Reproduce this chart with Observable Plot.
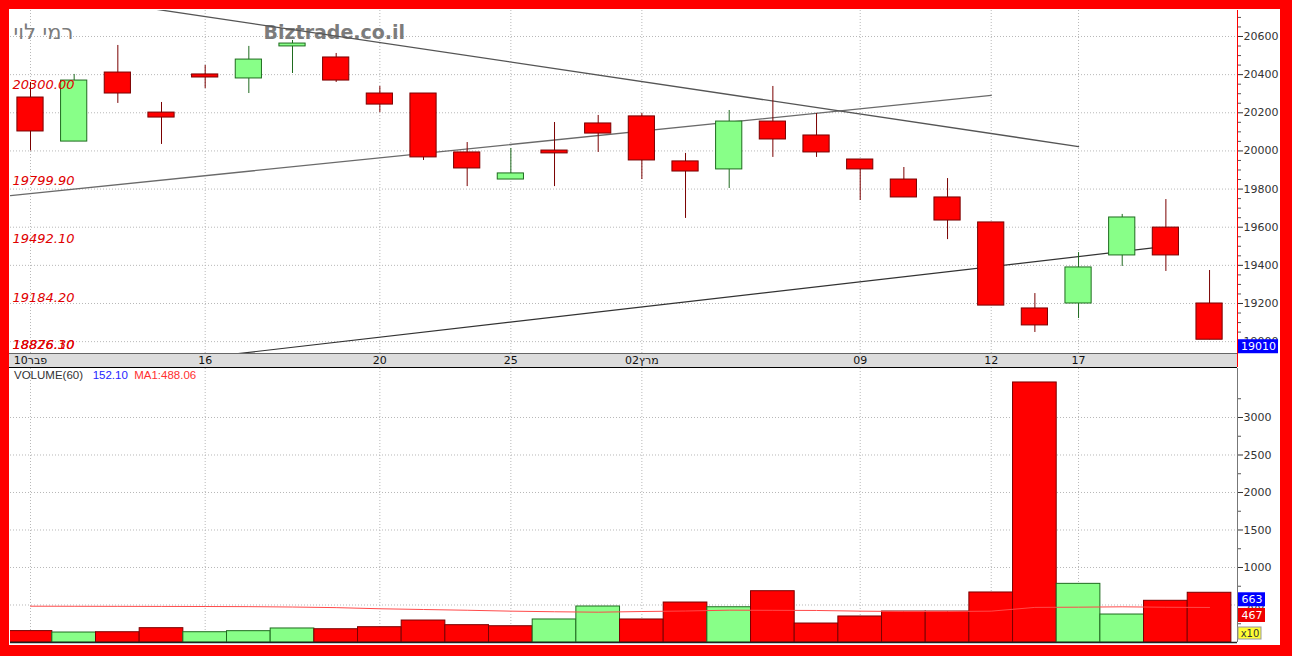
<!DOCTYPE html>
<html><head><meta charset="utf-8">
<script src="https://cdn.jsdelivr.net/npm/d3@7"></script>
<script src="https://cdn.jsdelivr.net/npm/@observablehq/plot@0.6"></script>
<style>
body{margin:0;background:#fff}
#frame{position:relative;width:1292px;height:656px;background:#ff0000;overflow:hidden}
.abs{position:absolute}
svg{position:absolute;left:0}
</style></head>
<body><div id="frame"></div>
<script>
// ---- data ----
const idx = d3.range(28);
const open  = [20280,20049,20411,20201,20401,20380,20548,20490,20301,20301,19992,19850,20002,20144,20181,19945,19903,20154,20081,19955,19850,19756,19625,19174,19200,19452,19598,19200];
const high  = [20359,20401,20553,20254,20448,20548,20579,20511,20338,20301,20044,20013,20149,20186,20196,19987,20212,20338,20196,19955,19913,19855,19625,19252,19467,19667,19745,19373];
const low   = [20000,20049,20249,20034,20327,20301,20406,20359,20201,19950,19813,19850,19813,19992,19850,19646,19803,19966,19966,19740,19756,19535,19189,19048,19121,19394,19368,19010];
const close = [20102,20369,20301,20175,20385,20479,20563,20369,20243,19966,19908,19882,19987,20091,19950,19892,20154,20060,19992,19903,19756,19635,19189,19085,19389,19651,19452,19010];
const volume = [152.1,133,137,191,137,151,187,177,204,293,231,217,307,480,307,533,470,684,253,347,413,413,667,3467,782,373,556,663];
const volMA  = [484,483,482,481,480,478,473,465,450,440,430,418,410,404,413,420,431,429,427,418,413,413,418,468,471,476,470,467];
const tickIdx = [0,4,8,11,14,19,22,24];
const tickLabels = ["10פבר","16","20","25","02מרץ","09","12","17"];
const priceTicks = [19000,19200,19400,19600,19800,20000,20200,20400,20600];
const volTicks = [500,1000,1500,2000,2500,3000];
const levels = [20300, 19799.9, 19492.1, 19184.2, 18876.3, 18826.1];
const levelLabels = ["20300.00","19799.90","19492.10","19184.20","18876.30","18826.10"];
const trendDown  = [{i:2.75, p:20747}, {i:24, p:20023}];
const trendUpHi  = [{i:-0.458, p:19766}, {i:22, p:20291}];
const trendUpLo  = [{i:4.1, p:18920}, {i:26, p:19499}];
const lastPrice = 19010;
const lastVol = 663, lastMA = 467;
const volLabel = ["VOLUME(60)", "152.10", "MA1:488.06"];
const ownerName = "רמי לוי";
const siteName = "Biztrade.co.il";

// ---- layout ----
const frame = document.getElementById("frame");
const xDomain = [-0.458, 27.64];
const pxPerIdx = 1227 / (xDomain[1] - xDomain[0]);
const pDomain = [18937.8, 20736.3];
const pxPerPrice = 343 / (pDomain[1] - pDomain[0]);
const vDomain = [0, 3653.3];
const pxPerVol = 274 / vDomain[1];
const font = "DejaVu Sans, Verdana, sans-serif";
const fmt = d3.format("d");

function div(css){const d=document.createElement("div");d.className="abs";Object.assign(d.style,css);frame.appendChild(d);return d;}
div({left:"9px",top:"9px",width:"1271px",height:"636px",background:"#fff"});
div({left:"9px",top:"353px",width:"1228px",height:"13px",background:"#dcdcdc",borderTop:"1px solid #666",borderBottom:"1px solid #000"});

const up = i => close[i] > open[i];
const volUp = i => i > 0 && close[i] > close[i-1];
const RED="#ff0000", RED_D="#7a0000", GRN="#88ff88", GRN_D="#1f6b1f";

const price = Plot.plot({
  width:1292, height:368,
  marginLeft:10, marginRight:55, marginTop:10, marginBottom:15,
  x:{domain:xDomain, axis:null, label:null},
  y:{domain:pDomain, axis:null, label:null},
  style:{background:"transparent", fontFamily:font, overflow:"visible"},
  marks:[
    Plot.gridY({ticks:priceTicks, stroke:"#b8b8b8", strokeOpacity:1, strokeDasharray:"1,2"}),
    Plot.gridX({ticks:tickIdx, stroke:"#b8b8b8", strokeOpacity:1, strokeDasharray:"1,2"}),
    Plot.text([ownerName], {ariaLabel:"owner", frameAnchor:"top-left", text:d=>d, dx:3, dy:22, lineAnchor:"middle", textAnchor:"start", fontSize:21, fill:"#7c7c7c"}),
    Plot.text([siteName], {frameAnchor:"top-left", text:d=>d, dx:253, dy:22, lineAnchor:"middle", textAnchor:"start", fontSize:19, fontWeight:"bold", fill:"#7c7c7c"}),
    Plot.line(trendUpHi, {x:"i", y:"p", stroke:"#6a6a6a", strokeWidth:1.3, clip:true}),
    Plot.line(trendDown, {x:"i", y:"p", stroke:"#555", strokeWidth:1.3, clip:true}),
    Plot.line(trendUpLo, {x:"i", y:"p", stroke:"#333", strokeWidth:1.2, clip:true}),
    Plot.ruleX(idx, {x:i=>i, y1:i=>low[i], y2:i=>high[i], stroke:i=>up(i)?GRN_D:RED_D, strokeWidth:1}),
    Plot.rect(idx, {x1:i=>i-0.3, x2:i=>i+0.3, y1:i=>open[i], y2:i=>Math.abs(open[i]-close[i])<12 ? open[i] + (up(i)?12:-12) : close[i], fill:i=>up(i)?GRN:RED, stroke:i=>up(i)?GRN_D:RED_D, strokeWidth:1}),
    Plot.text(d3.range(levels.length), {ariaLabel:"levels", x:xDomain[0], y:i=>Math.max(levels[i], pDomain[0]), text:i=>levelLabels[i], dx:2, dy:-8.5, lineAnchor:"middle", textAnchor:"start", fontSize:13, fontStyle:"italic", fill:"#e00000"}),
    Plot.axisY({anchor:"right", label:null, ticks:d3.range(18950,20750,50).filter(v=>v%200!==0), tickSize:3, tickFormat:()=>"", color:"#555"}),
    Plot.axisY({anchor:"right", label:null, ticks:priceTicks, tickSize:5, tickPadding:1, tickFormat:fmt, fontSize:11, color:"#333"}),
    Plot.axisX({anchor:"bottom", label:null, ticks:tickIdx, tickFormat:d=>tickLabels[tickIdx.indexOf(d)], tickSize:0, tickPadding:3, fontSize:11, color:"#111"}),
    Plot.rect([lastPrice], {x1:xDomain[1]+1/pxPerIdx, x2:xDomain[1]+41/pxPerIdx, y1:d=>d, y2:d=>d-14/pxPerPrice, fill:"#0000ff"}),
    Plot.text([lastPrice], {x:xDomain[1]+21/pxPerIdx, y:d=>d-7/pxPerPrice, text:d=>String(d), fill:"#fff", fontSize:11, lineAnchor:"middle"})
  ]
});
price.style.top = "0px";
d3.select(price).selectAll('g[aria-label="levels"] text').attr("letter-spacing","1px");
d3.select(price).selectAll('g[aria-label="owner"] text').attr("direction","ltr").attr("unicode-bidi","bidi-override").style("direction","ltr").style("unicode-bidi","bidi-override");
frame.appendChild(price);
div({left:"1237px",top:"10px",width:"1px",height:"357px",background:"#ff0000"});

const vol = Plot.plot({
  width:1292, height:277,
  marginLeft:10, marginRight:55, marginTop:0, marginBottom:3,
  x:{domain:xDomain, axis:null, label:null},
  y:{domain:vDomain, axis:null, label:null},
  style:{background:"transparent", fontFamily:font, overflow:"visible"},
  marks:[
    Plot.gridY({ticks:volTicks, stroke:"#b8b8b8", strokeOpacity:1, strokeDasharray:"1,2"}),
    Plot.gridX({ticks:tickIdx, stroke:"#b8b8b8", strokeOpacity:1, strokeDasharray:"1,2"}),
    Plot.rectY(idx, {x1:i=>i-0.5, x2:i=>i+0.5, y1:0, y2:i=>volume[i], fill:i=>volUp(i)?GRN:RED, stroke:i=>volUp(i)?GRN_D:RED_D, strokeWidth:1, clip:true}),
    Plot.line(idx, {x:i=>i, y:i=>volMA[i], stroke:"#ff4a4a", strokeWidth:1}),
    Plot.ruleY([0], {stroke:"#222", strokeWidth:1.5}),
    Plot.ruleX([xDomain[1]], {stroke:"#777"}),
    Plot.axisY({anchor:"right", label:null, ticks:d3.range(250,3650,250).filter(v=>v%500!==0), tickSize:3, tickFormat:()=>"", color:"#555"}),
    Plot.axisY({anchor:"right", label:null, ticks:volTicks, tickSize:5, tickPadding:1, tickFormat:fmt, fontSize:11, color:"#333"}),
    Plot.rect([lastVol], {x1:xDomain[1]+1/pxPerIdx, x2:xDomain[1]+28/pxPerIdx, y1:d=>d, y2:d=>d-14/pxPerVol, fill:"#0000ff"}),
    Plot.text([lastVol], {x:xDomain[1]+14.5/pxPerIdx, y:d=>d-7/pxPerVol, text:d=>String(d), fill:"#fff", fontSize:11, lineAnchor:"middle"}),
    Plot.rect([lastMA], {x1:xDomain[1]+1/pxPerIdx, x2:xDomain[1]+28/pxPerIdx, y1:d=>d-1/pxPerVol, y2:d=>d-15/pxPerVol, fill:"#ee0000"}),
    Plot.text([lastMA], {x:xDomain[1]+14.5/pxPerIdx, y:d=>d-8/pxPerVol, text:d=>String(d), fill:"#fff", fontSize:11, lineAnchor:"middle"}),
    Plot.rect([0], {x1:xDomain[1]+1/pxPerIdx, x2:xDomain[1]+24/pxPerIdx, y1:d=>d+3/pxPerVol, y2:d=>d+15/pxPerVol, fill:"#ffff33", stroke:"#999"}),
    Plot.text([0], {x:xDomain[1]+12.5/pxPerIdx, y:d=>d+9/pxPerVol, text:()=>"x10", fill:"#333", fontSize:10, lineAnchor:"middle"})
  ]
});
vol.style.top = "368px";
frame.appendChild(vol);

const lab = div({left:"14px",top:"368px",height:"14px",font:"11.5px 'Liberation Sans', Arial, sans-serif",whiteSpace:"pre",lineHeight:"14px"});
lab.innerHTML = `<span style="color:#333">${volLabel[0]}</span>   <span style="color:#2424ff">${volLabel[1]}</span>  <span style="color:#ff3030">${volLabel[2]}</span>`;
</script>
</body></html>
